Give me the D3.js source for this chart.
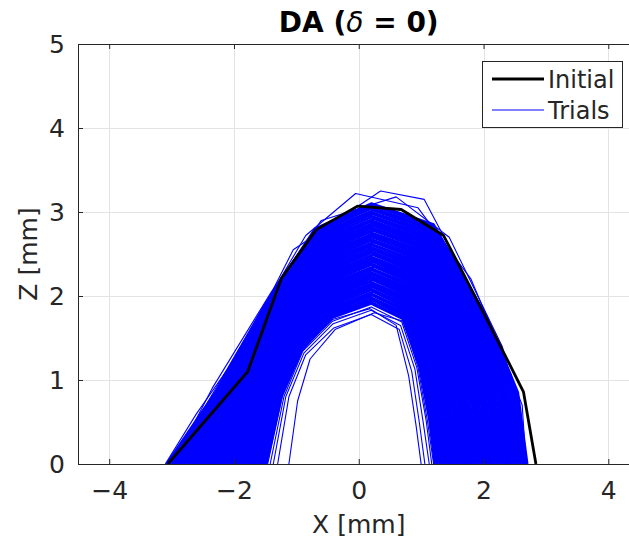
<!DOCTYPE html>
<html>
<head>
<meta charset="utf-8">
<script src="https://cdn.jsdelivr.net/npm/d3@7/dist/d3.min.js"></script>
<style>
  body { margin: 0; background: #fff; }
  text { font-family: "DejaVu Sans", sans-serif; fill: #262626; }
</style>
</head>
<body>
<div id="chart"></div>
<script>
// tick values
const xTicks = [-4, -2, 0, 2, 4];
const zTicks = [0, 1, 2, 3, 4, 5];

// initial trajectory
const initialX = [-3.06, -1.78, -1.24, -0.68, -0.02, 0.68, 1.36, 2.00, 2.64, 2.84];
const initialZ = [0, 1.10, 2.21, 2.79, 3.07, 3.03, 2.72, 1.80, 0.86, 0];

// trials, flat x,z pairs (dense band first)
const trials = [
  [-3.08,0, -2.30,0.85, -1.50,1.90, -0.70,2.80, 0.20,3.10, 1.20,2.85, 2.05,1.75, 2.55,0.85, 2.70,0],
  [-3.05,0, -2.28,0.85, -1.49,1.89, -0.70,2.78, 0.22,3.08, 1.19,2.83, 2.03,1.74, 2.53,0.84, 2.68,0],
  [-3.03,0, -2.26,0.85, -1.48,1.88, -0.69,2.76, 0.18,3.06, 1.18,2.81, 2.01,1.73, 2.50,0.84, 2.65,0],
  [-3.00,0, -2.25,0.85, -1.47,1.87, -0.69,2.75, 0.20,3.04, 1.18,2.79, 2.00,1.72, 2.48,0.83, 2.63,0],
  [-2.97,0, -2.23,0.85, -1.46,1.86, -0.68,2.73, 0.23,3.02, 1.17,2.78, 1.98,1.71, 2.46,0.83, 2.60,0],
  [-2.95,0, -2.21,0.85, -1.45,1.86, -0.68,2.71, 0.19,3.00, 1.16,2.76, 1.96,1.70, 2.43,0.82, 2.58,0],
  [-2.92,0, -2.19,0.84, -1.44,1.85, -0.67,2.69, 0.21,2.98, 1.15,2.74, 1.94,1.69, 2.41,0.82, 2.55,0],
  [-2.89,0, -2.18,0.84, -1.43,1.84, -0.67,2.68, 0.17,2.96, 1.14,2.72, 1.92,1.68, 2.38,0.81, 2.53,0],
  [-2.87,0, -2.16,0.84, -1.42,1.83, -0.66,2.66, 0.20,2.94, 1.13,2.70, 1.91,1.67, 2.36,0.81, 2.50,0],
  [-2.84,0, -2.14,0.84, -1.41,1.82, -0.66,2.64, 0.24,2.92, 1.13,2.68, 1.89,1.66, 2.34,0.80, 2.48,0],
  [-2.81,0, -2.12,0.84, -1.40,1.81, -0.66,2.62, 0.20,2.90, 1.12,2.66, 1.87,1.65, 2.31,0.80, 2.45,0],
  [-2.79,0, -2.11,0.84, -1.39,1.80, -0.65,2.61, 0.18,2.88, 1.11,2.64, 1.85,1.64, 2.29,0.79, 2.43,0],
  [-2.76,0, -2.09,0.84, -1.38,1.79, -0.65,2.59, 0.21,2.86, 1.10,2.63, 1.83,1.63, 2.27,0.79, 2.40,0],
  [-2.73,0, -2.07,0.84, -1.37,1.78, -0.64,2.57, 0.22,2.84, 1.09,2.61, 1.82,1.62, 2.24,0.78, 2.38,0],
  [-2.71,0, -2.05,0.84, -1.36,1.77, -0.64,2.55, 0.19,2.82, 1.08,2.59, 1.80,1.61, 2.22,0.78, 2.36,0],
  [-2.68,0, -2.03,0.84, -1.35,1.77, -0.63,2.53, 0.20,2.80, 1.08,2.57, 1.78,1.60, 2.19,0.77, 2.33,0],
  [-2.65,0, -2.02,0.84, -1.34,1.76, -0.63,2.52, 0.23,2.78, 1.07,2.55, 1.76,1.59, 2.17,0.77, 2.31,0],
  [-2.63,0, -2.00,0.84, -1.33,1.75, -0.62,2.50, 0.18,2.76, 1.06,2.53, 1.74,1.58, 2.15,0.76, 2.28,0],
  [-2.60,0, -1.98,0.84, -1.32,1.74, -0.62,2.48, 0.21,2.74, 1.05,2.51, 1.73,1.57, 2.12,0.76, 2.26,0],
  [-2.57,0, -1.96,0.84, -1.31,1.73, -0.61,2.46, 0.20,2.72, 1.04,2.49, 1.71,1.56, 2.10,0.75, 2.23,0],
  [-2.55,0, -1.95,0.84, -1.31,1.72, -0.61,2.45, 0.22,2.70, 1.04,2.48, 1.69,1.56, 2.08,0.75, 2.21,0],
  [-2.52,0, -1.93,0.83, -1.30,1.71, -0.61,2.43, 0.18,2.68, 1.03,2.46, 1.67,1.55, 2.05,0.74, 2.18,0],
  [-2.49,0, -1.91,0.83, -1.29,1.70, -0.60,2.41, 0.20,2.66, 1.02,2.44, 1.65,1.54, 2.03,0.73, 2.16,0],
  [-2.47,0, -1.89,0.83, -1.28,1.69, -0.60,2.39, 0.24,2.64, 1.01,2.42, 1.64,1.53, 2.00,0.73, 2.13,0],
  [-2.44,0, -1.88,0.83, -1.27,1.68, -0.59,2.38, 0.19,2.62, 1.00,2.40, 1.62,1.52, 1.98,0.72, 2.11,0],
  [-2.41,0, -1.86,0.83, -1.26,1.68, -0.59,2.36, 0.21,2.61, 0.99,2.38, 1.60,1.51, 1.96,0.72, 2.09,0],
  [-2.39,0, -1.84,0.83, -1.25,1.67, -0.58,2.34, 0.17,2.59, 0.99,2.36, 1.58,1.50, 1.93,0.71, 2.06,0],
  [-2.36,0, -1.82,0.83, -1.24,1.66, -0.58,2.32, 0.20,2.57, 0.98,2.34, 1.56,1.49, 1.91,0.71, 2.04,0],
  [-2.33,0, -1.80,0.83, -1.23,1.65, -0.57,2.30, 0.22,2.55, 0.97,2.33, 1.55,1.48, 1.89,0.70, 2.01,0],
  [-2.31,0, -1.79,0.83, -1.22,1.64, -0.57,2.29, 0.19,2.53, 0.96,2.31, 1.53,1.47, 1.86,0.70, 1.99,0],
  [-2.28,0, -1.77,0.83, -1.21,1.63, -0.57,2.27, 0.20,2.51, 0.95,2.29, 1.51,1.46, 1.84,0.69, 1.96,0],
  [-2.25,0, -1.75,0.83, -1.20,1.62, -0.56,2.25, 0.23,2.49, 0.94,2.27, 1.49,1.45, 1.82,0.69, 1.94,0],
  [-2.23,0, -1.73,0.83, -1.19,1.61, -0.56,2.23, 0.18,2.47, 0.94,2.25, 1.47,1.44, 1.79,0.68, 1.91,0],
  [-2.20,0, -1.72,0.82, -1.18,1.60, -0.55,2.22, 0.21,2.45, 0.93,2.23, 1.46,1.43, 1.77,0.68, 1.89,0],
  [-2.17,0, -1.70,0.82, -1.17,1.59, -0.55,2.20, 0.20,2.43, 0.92,2.21, 1.44,1.42, 1.74,0.67, 1.86,0],
  [-2.15,0, -1.68,0.82, -1.16,1.59, -0.54,2.18, 0.22,2.41, 0.91,2.19, 1.42,1.41, 1.72,0.67, 1.84,0],
  [-2.12,0, -1.66,0.82, -1.15,1.58, -0.54,2.16, 0.18,2.39, 0.90,2.18, 1.40,1.40, 1.70,0.66, 1.81,0],
  [-2.09,0, -1.65,0.82, -1.14,1.57, -0.53,2.15, 0.20,2.37, 0.89,2.16, 1.38,1.39, 1.67,0.66, 1.79,0],
  [-2.07,0, -1.63,0.82, -1.13,1.56, -0.53,2.13, 0.24,2.35, 0.89,2.14, 1.37,1.38, 1.65,0.65, 1.77,0],
  [-2.04,0, -1.61,0.82, -1.12,1.55, -0.52,2.11, 0.19,2.33, 0.88,2.12, 1.35,1.37, 1.63,0.65, 1.74,0],
  [-2.01,0, -1.59,0.82, -1.11,1.54, -0.52,2.09, 0.21,2.31, 0.87,2.10, 1.33,1.36, 1.60,0.64, 1.72,0],
  [-1.99,0, -1.57,0.82, -1.10,1.53, -0.52,2.07, 0.17,2.29, 0.86,2.08, 1.31,1.35, 1.58,0.63, 1.69,0],
  [-1.96,0, -1.56,0.82, -1.09,1.52, -0.51,2.06, 0.20,2.27, 0.85,2.06, 1.29,1.34, 1.55,0.63, 1.67,0],
  [-1.93,0, -1.54,0.82, -1.08,1.51, -0.51,2.04, 0.22,2.25, 0.85,2.04, 1.28,1.33, 1.53,0.62, 1.64,0],
  [-1.91,0, -1.52,0.82, -1.07,1.50, -0.50,2.02, 0.19,2.23, 0.84,2.03, 1.26,1.32, 1.51,0.62, 1.62,0],
  [-1.88,0, -1.50,0.82, -1.06,1.50, -0.50,2.00, 0.20,2.21, 0.83,2.01, 1.24,1.31, 1.48,0.61, 1.59,0],
  [-1.85,0, -1.49,0.82, -1.05,1.49, -0.49,1.99, 0.23,2.19, 0.82,1.99, 1.22,1.30, 1.46,0.61, 1.57,0],
  [-1.83,0, -1.47,0.81, -1.04,1.48, -0.49,1.97, 0.18,2.17, 0.81,1.97, 1.20,1.29, 1.44,0.60, 1.54,0],
  [-1.80,0, -1.45,0.81, -1.03,1.47, -0.48,1.95, 0.21,2.15, 0.80,1.95, 1.19,1.28, 1.41,0.60, 1.52,0],
  [-1.77,0, -1.43,0.81, -1.02,1.46, -0.48,1.93, 0.20,2.13, 0.80,1.93, 1.17,1.27, 1.39,0.59, 1.50,0],
  [-1.75,0, -1.42,0.81, -1.01,1.45, -0.48,1.92, 0.22,2.11, 0.79,1.91, 1.15,1.26, 1.37,0.59, 1.47,0],
  [-1.72,0, -1.40,0.81, -1.00,1.44, -0.47,1.90, 0.18,2.09, 0.78,1.89, 1.13,1.25, 1.34,0.58, 1.45,0],
  [-1.69,0, -1.38,0.81, -0.99,1.43, -0.47,1.88, 0.20,2.07, 0.77,1.88, 1.11,1.24, 1.32,0.58, 1.42,0],
  [-1.67,0, -1.36,0.81, -0.98,1.42, -0.46,1.86, 0.24,2.05, 0.76,1.86, 1.10,1.23, 1.29,0.57, 1.40,0],
  [-1.64,0, -1.34,0.81, -0.97,1.41, -0.46,1.84, 0.19,2.03, 0.75,1.84, 1.08,1.22, 1.27,0.57, 1.37,0],
  [-1.61,0, -1.33,0.81, -0.96,1.41, -0.45,1.83, 0.21,2.01, 0.75,1.82, 1.06,1.21, 1.25,0.56, 1.35,0],
  [-1.59,0, -1.31,0.81, -0.95,1.40, -0.45,1.81, 0.17,1.99, 0.74,1.80, 1.04,1.20, 1.22,0.56, 1.32,0],
  [-1.56,0, -1.29,0.81, -0.94,1.39, -0.44,1.79, 0.20,1.97, 0.73,1.78, 1.02,1.19, 1.20,0.55, 1.30,0],
  [-1.53,0, -1.27,0.81, -0.93,1.38, -0.44,1.77, 0.22,1.95, 0.72,1.76, 1.01,1.18, 1.17,0.55, 1.27,0],
  [-1.51,0, -1.26,0.81, -0.92,1.37, -0.43,1.76, 0.19,1.93, 0.71,1.74, 0.99,1.17, 1.15,0.54, 1.25,0],
  [-1.48,0, -1.24,0.80, -0.91,1.36, -0.43,1.74, 0.20,1.91, 0.70,1.73, 0.97,1.17, 1.13,0.54, 1.22,0],
  // sparse trials at the inner and outer edges
  [-1.42,0, -1.20,0.80, -0.90,1.34, -0.42,1.70, 0.20,1.87, 0.69,1.69, 0.93,1.15, 1.08,0.52, 1.17,0],
  [-1.37,0, -1.17,0.80, -0.88,1.32, -0.41,1.67, 0.20,1.83, 0.67,1.65, 0.90,1.13, 1.03,0.51, 1.13,0],
  [-1.30,0, -1.12,0.80, -0.85,1.30, -0.40,1.62, 0.20,1.78, 0.65,1.60, 0.85,1.10, 0.97,0.50, 1.06,0],
  [-1.12,0, -0.98,0.75, -0.78,1.25, -0.38,1.60, 0.25,1.80, 0.72,1.70, 0.95,1.15, 1.10,0.52, 1.20,0],
  [-1.46,0, -1.22,0.82, -0.90,1.38, -0.42,1.72, 0.18,1.85, 0.60,1.65, 0.80,1.05, 0.92,0.45, 1.00,0],
  [-3.05,0, -2.45,0.70, -1.62,1.75, -0.85,2.72, -0.05,3.22, 0.95,3.05, 1.80,2.20, 2.45,1.05, 2.66,0],
  [-3.10,0, -2.60,0.60, -1.80,1.45, -1.05,2.55, 0.35,3.25, 1.05,3.15, 2.15,1.60, 2.62,0.70, 2.68,0],
  [-2.98,0, -2.35,0.90, -1.40,2.05, -0.60,2.90, 0.60,3.18, 1.45,2.70, 2.30,1.40, 2.58,0.60, 2.66,0]
];
const denseCount = 61;

const width = 629, height = 542;
const mLeft = 78, mRight = 639.5, mTop = 44, mBottom = 464;

const svg = d3.select("#chart").append("svg")
    .attr("width", width)
    .attr("height", height);

svg.append("rect").attr("width", width).attr("height", height).attr("fill", "#fff");

const x = d3.scaleLinear().domain([-4.5, 4.5]).range([mLeft, mRight]);
const y = d3.scaleLinear().domain([0, 5]).range([mBottom, mTop]);

// grid
const grid = svg.append("g").attr("stroke", "#e3e3e3").attr("stroke-width", 1);
grid.selectAll(".gx").data(xTicks).enter().append("line")
    .attr("x1", d => Math.round(x(d)) + 0.5).attr("x2", d => Math.round(x(d)) + 0.5)
    .attr("y1", mTop).attr("y2", mBottom);
grid.selectAll(".gy").data(zTicks.slice(1, -1)).enter().append("line")
    .attr("x1", mLeft).attr("x2", mRight)
    .attr("y1", d => Math.round(y(d)) + 0.5).attr("y2", d => Math.round(y(d)) + 0.5);

svg.append("clipPath").attr("id", "plot-clip")
  .append("rect").attr("x", mLeft).attr("y", mTop).attr("width", mRight - mLeft).attr("height", mBottom - mTop);

const line = d3.line().x(d => x(d[0])).y(d => y(d[1]));
const toPairs = arr => d3.range(0, arr.length, 2).map(i => [arr[i], arr[i + 1]]);

const plot = svg.append("g").attr("clip-path", "url(#plot-clip)");
plot.selectAll(".trial").data(trials).enter().append("path")
    .attr("class", "trial")
    .attr("d", d => line(toPairs(d)))
    .attr("fill", "none")
    .attr("stroke", "#0000ff")
    .attr("stroke-width", (d, i) => i < denseCount ? 2.6 : 1.1)
    .attr("stroke-linejoin", "round");

plot.append("path")
    .attr("d", line(initialX.map((v, i) => [v, initialZ[i]])))
    .attr("fill", "none")
    .attr("stroke", "#000")
    .attr("stroke-width", 2.8)
    .attr("stroke-linejoin", "round");

// axes
const fontSize = 25;
const xAxis = svg.append("g").attr("transform", `translate(0,${mBottom})`)
    .call(d3.axisBottom(x).tickValues(xTicks).tickSizeInner(-5).tickSizeOuter(0).tickPadding(17));
const yAxis = svg.append("g").attr("transform", `translate(${mLeft},0)`)
    .call(d3.axisLeft(y).tickValues(zTicks).tickFormat(d3.format("d")).tickSizeInner(-5).tickSizeOuter(0).tickPadding(13));
const topAxis = svg.append("g").attr("transform", `translate(0,${mTop})`)
    .call(d3.axisTop(x).tickValues(xTicks).tickSizeInner(-5).tickSizeOuter(0).tickFormat(""));
const rightAxis = svg.append("g").attr("transform", `translate(${mRight},0)`)
    .call(d3.axisRight(y).tickValues(zTicks).tickSizeInner(-5).tickSizeOuter(0).tickFormat(""));

[xAxis, yAxis, topAxis, rightAxis].forEach(g => {
  g.selectAll(".domain").attr("stroke", "#262626");
  g.selectAll(".tick line").attr("stroke", "#262626");
  g.selectAll(".tick text")
    .attr("fill", "#262626")
    .style("font-family", "DejaVu Sans, sans-serif")
    .style("font-size", fontSize + "px");
});

// axis labels
svg.append("text")
    .attr("x", (mLeft + mRight) / 2).attr("y", 533)
    .attr("text-anchor", "middle")
    .style("font-size", fontSize + "px")
    .text("X [mm]");

svg.append("text")
    .attr("transform", `translate(37,${(mTop + mBottom) / 2}) rotate(-90)`)
    .attr("text-anchor", "middle")
    .style("font-size", fontSize + "px")
    .text("Z [mm]");

// title
const title = svg.append("text")
    .attr("x", (mLeft + mRight) / 2).attr("y", 32)
    .attr("text-anchor", "middle")
    .style("font-size", "28px")
    .style("font-weight", "bold")
    .style("fill", "#000");
title.append("tspan").text("DA (");
title.append("tspan").style("font-style", "italic").style("font-weight", "normal").text("\u03b4");
title.append("tspan").text(" = 0)");

// legend
const legend = svg.append("g");
legend.append("rect")
    .attr("x", 482.5).attr("y", 61.5).attr("width", 140).attr("height", 66)
    .attr("fill", "#fff").attr("stroke", "#262626").attr("stroke-width", 1);
const legendItems = [
  {name: "Initial", color: "#000", w: 2.8, yy: 79},
  {name: "Trials", color: "#0000ff", w: 1, yy: 110}
];
legendItems.forEach(it => {
  legend.append("line")
      .attr("x1", 492).attr("x2", 544).attr("y1", it.yy).attr("y2", it.yy)
      .attr("stroke", it.color).attr("stroke-width", it.w);
  legend.append("text")
      .attr("x", 548).attr("y", it.yy).attr("dy", "0.36em")
      .style("font-size", "24px")
      .text(it.name);
});
</script>
</body>
</html>
